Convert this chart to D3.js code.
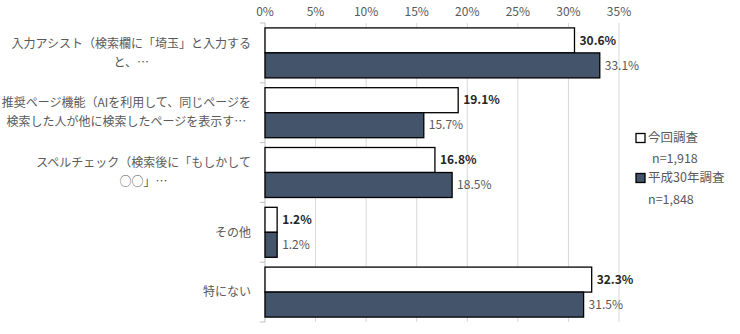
<!DOCTYPE html>
<html><head><meta charset="utf-8">
<script src="https://cdn.jsdelivr.net/npm/d3@7"></script>
<style>body{margin:0;background:#fff;} svg{display:block;font-family:"Noto Sans CJK JP","Noto Sans",sans-serif;}</style>
</head><body><svg id="c" width="740" height="334"></svg>
<script>
const categories = [
  ["入力アシスト（検索欄に「埼玉」と入力する","と、…"],
  ["推奨ページ機能（AIを利用して、同じページを","検索した人が他に検索したページを表示す…"],
  ["スペルチェック（検索後に「もしかして","○○」…"],
  ["その他"],
  ["特にない"]
];
const seriesNames = ["今回調査","平成30年調査"];
const seriesN = ["n=1,918","n=1,848"];
const current = [30.6, 19.1, 16.8, 1.2, 32.3];
const previous = [33.1, 15.7, 18.5, 1.2, 31.5];
const xTicks = [0,5,10,15,20,25,30,35];
const colors = ["#ffffff","#44546a"];

const svg = d3.select("#c");
const x = d3.scaleLinear().domain([0,35]).range([265,619]);
const y = d3.scaleBand().domain(d3.range(categories.length)).range([23,322]).paddingInner(0).paddingOuter(0);
const sub = d3.scaleBand().domain([0,1]).range([0,50]);
const off = (y.bandwidth()-50)/2;

// gridlines
svg.append("g").selectAll("line").data(xTicks.slice(1)).join("line")
  .attr("x1",d=>x(d)).attr("x2",d=>x(d)).attr("y1",23).attr("y2",322)
  .attr("stroke","#d9d9d9").attr("stroke-width",1);

// top axis labels
svg.append("g").selectAll("text").data(xTicks).join("text")
  .attr("x",d=>x(d)).attr("y",16).attr("text-anchor","middle")
  .attr("font-size",12).attr("fill","#595959").text(d=>d+"%");

// left axis
svg.append("line").attr("x1",x(0)).attr("x2",x(0)).attr("y1",23).attr("y2",322).attr("stroke","#bfbfbf");
svg.append("g").selectAll("line").data(d3.range(categories.length+1)).join("line")
  .attr("x1",x(0)-5).attr("x2",x(0)).attr("y1",d=>23+d*y.step()).attr("y2",d=>23+d*y.step())
  .attr("stroke","#bfbfbf");

const data = [current, previous];
data.forEach((vals, s) => {
  const g = svg.append("g");
  g.selectAll("rect").data(vals).join("rect")
    .attr("x",x(0)).attr("y",(d,i)=>y(i)+off+sub(s))
    .attr("width",d=>x(d)-x(0)).attr("height",sub.bandwidth())
    .attr("fill",colors[s]).attr("stroke","#000").attr("stroke-width",1.3);
  g.selectAll("text").data(vals).join("text")
    .attr("x",d=>x(d)+5).attr("y",(d,i)=>y(i)+off+sub(s)+sub.bandwidth()/2)
    .attr("dy","0.35em").attr("font-size",12)
    .attr("font-weight",s===0?"bold":"normal")
    .attr("fill",s===0?"#262626":"#595959")
    .text(d=>d.toFixed(1)+"%");
});

// category labels
const lg = svg.append("g");
categories.forEach((lines,i)=>{
  const cy = y(i)+y.bandwidth()/2;
  const lh = 19;
  const t = lg.append("g");
  const texts = lines.map((l,k)=> t.append("text")
      .attr("y", cy + (k-(lines.length-1)/2)*lh).attr("dy","0.35em")
      .attr("font-size",12).attr("fill","#595959").text(l));
  const maxW = d3.max(texts,tx=>tx.node().getComputedTextLength());
  const right = 251;
  texts.forEach(tx=>tx.attr("x", right-maxW/2).attr("text-anchor","middle"));
});

// legend
const leg = svg.append("g");
const ly = [138, 178];
const ny = [159, 200];
seriesNames.forEach((n,s)=>{
  leg.append("rect").attr("x",636).attr("y",ly[s]-4.5).attr("width",9).attr("height",9)
    .attr("fill",colors[s]).attr("stroke","#000").attr("stroke-width",1.3);
  leg.append("text").attr("x",648).attr("y",ly[s]).attr("dy","0.35em")
    .attr("font-size",12.5).attr("fill","#595959").text(n);
  leg.append("text").attr("x",s===0?652:648).attr("y",ny[s]).attr("dy","0.35em")
    .attr("font-size",12.5).attr("fill","#595959").text(seriesN[s]);
});
</script></body></html>
